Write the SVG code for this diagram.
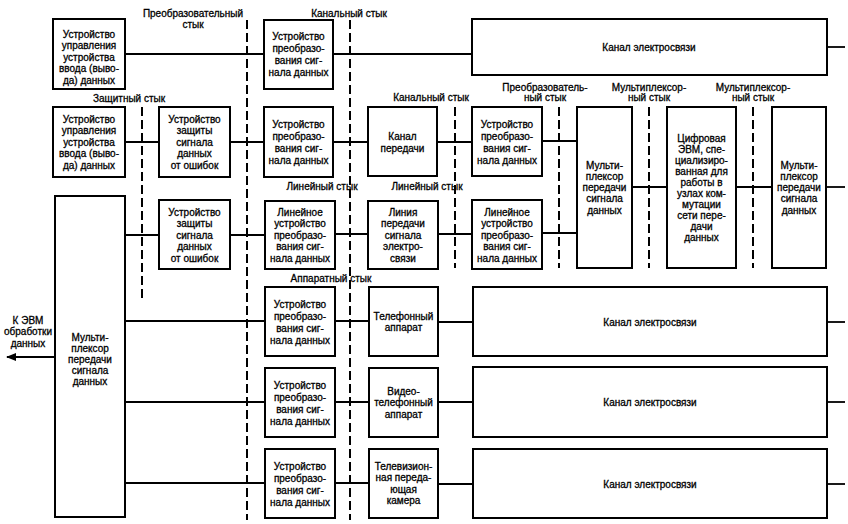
<svg xmlns="http://www.w3.org/2000/svg" width="848" height="524" viewBox="0 0 848 524">
<style>
.box{fill:#fff;stroke:#000;stroke-width:2}
.ln{stroke:#000;stroke-width:1.8;fill:none}
.dash{stroke:#000;stroke-width:2;stroke-dasharray:9 4;fill:none}
text{font-family:"Liberation Sans",Arial,sans-serif;font-size:10px;text-anchor:middle;fill:#000;stroke:#000;stroke-width:0.3}
</style>
<defs>
<marker id="arr" markerWidth="10" markerHeight="8" refX="9" refY="4" orient="auto" markerUnits="userSpaceOnUse">
<path d="M0,0 L10,4 L0,8 Z" fill="#000"/>
</marker>
</defs>
<rect width="848" height="524" fill="#fff"/>

<g id="connectors">
<line class="ln" x1="125" y1="54" x2="264" y2="54"/>
<line class="ln" x1="333" y1="54" x2="472" y2="54"/>
<line class="ln" x1="827" y1="47" x2="845" y2="47"/>
<line class="ln" x1="125" y1="142" x2="159" y2="142"/>
<line class="ln" x1="230" y1="142" x2="264" y2="142"/>
<line class="ln" x1="333" y1="142" x2="368" y2="142"/>
<line class="ln" x1="437" y1="142" x2="472" y2="142"/>
<line class="ln" x1="542" y1="141" x2="577" y2="141"/>
<line class="ln" x1="125" y1="235" x2="159" y2="235"/>
<line class="ln" x1="230" y1="235" x2="265" y2="235"/>
<line class="ln" x1="335" y1="234" x2="368" y2="234"/>
<line class="ln" x1="438" y1="234" x2="472" y2="234"/>
<line class="ln" x1="542" y1="233" x2="577" y2="233"/>
<line class="ln" x1="632" y1="187" x2="667" y2="187"/>
<line class="ln" x1="736" y1="187" x2="772" y2="187"/>
<line class="ln" x1="826" y1="187" x2="845" y2="187"/>
<line class="ln" x1="125" y1="321" x2="265" y2="321"/>
<line class="ln" x1="335" y1="321" x2="369" y2="321"/>
<line class="ln" x1="438" y1="322" x2="473" y2="322"/>
<line class="ln" x1="827" y1="322" x2="845" y2="322"/>
<line class="ln" x1="125" y1="402" x2="265" y2="402"/>
<line class="ln" x1="335" y1="402" x2="369" y2="402"/>
<line class="ln" x1="438" y1="402" x2="473" y2="402"/>
<line class="ln" x1="827" y1="402" x2="845" y2="402"/>
<line class="ln" x1="125" y1="483" x2="265" y2="483"/>
<line class="ln" x1="335" y1="483" x2="369" y2="483"/>
<line class="ln" x1="438" y1="484" x2="473" y2="484"/>
<line class="ln" x1="827" y1="484" x2="845" y2="484"/>
<line class="ln" x1="55" y1="357" x2="7" y2="357" marker-end="url(#arr)"/>
</g>

<g id="interfaces">
<line class="dash" x1="142" y1="107" x2="142" y2="302"/>
<line class="dash" x1="247" y1="20" x2="247" y2="520"/>
<line class="dash" x1="350" y1="20" x2="350" y2="520"/>
<line class="dash" x1="455" y1="107" x2="455" y2="268"/>
<line class="dash" x1="559" y1="107" x2="559" y2="268"/>
<line class="dash" x1="649" y1="107" x2="649" y2="268"/>
<line class="dash" x1="753" y1="107" x2="753" y2="268"/>
</g>

<g id="labels">
<text x="193" y="16.5">Преобразовательный</text>
<text x="193" y="27.5">стык</text>
<text x="349" y="16.5">Канальный стык</text>
<text x="129" y="101.5">Защитный стык</text>
<text x="431" y="100.5">Канальный стык</text>
<text x="545" y="90.5">Преобразователь-</text>
<text x="545" y="100.5">ный стык</text>
<text x="649" y="90.5">Мультиплексор-</text>
<text x="649" y="100.5">ный стык</text>
<text x="753" y="90.5">Мультиплексор-</text>
<text x="753" y="100.5">ный стык</text>
<text x="322" y="189.5">Линейный стык</text>
<text x="427" y="189.5">Линейный стык</text>
<text x="331" y="281.5">Аппаратный стык</text>
<text x="28"><tspan x="28" y="323.5">К ЭВМ</tspan><tspan x="28" y="335">обработки</tspan><tspan x="28" y="346.5">данных</tspan></text>
</g>

<g id="n1"><rect class="box" x="53" y="19" width="72" height="70"/>
<text><tspan x="89" y="37.5">Устройство</tspan><tspan x="89" y="49">управления</tspan><tspan x="89" y="60.5">устройства</tspan><tspan x="89" y="72">ввода (выво-</tspan><tspan x="89" y="83.5">да) данных</tspan></text></g>

<g id="n2"><rect class="box" x="264" y="20" width="69" height="69"/>
<text><tspan x="298.5" y="39.5">Устройство</tspan><tspan x="298.5" y="51.5">преобразо-</tspan><tspan x="298.5" y="63.5">вания сиг-</tspan><tspan x="298.5" y="75.5">нала данных</tspan></text></g>

<g id="n3"><rect class="box" x="472" y="19" width="355" height="56"/>
<text x="649" y="50.5">Канал электросвязи</text></g>

<g id="n4"><rect class="box" x="53" y="107" width="72" height="70"/>
<text><tspan x="89" y="122.5">Устройство</tspan><tspan x="89" y="134">управления</tspan><tspan x="89" y="145.5">устройства</tspan><tspan x="89" y="157">ввода (выво-</tspan><tspan x="89" y="168.5">да) данных</tspan></text></g>

<g id="n5"><rect class="box" x="159" y="107" width="71" height="70"/>
<text><tspan x="194.5" y="122.5">Устройство</tspan><tspan x="194.5" y="134">защиты</tspan><tspan x="194.5" y="145.5">сигнала</tspan><tspan x="194.5" y="157">данных</tspan><tspan x="194.5" y="168.5">от ошибок</tspan></text></g>

<g id="n6"><rect class="box" x="264" y="107" width="69" height="70"/>
<text><tspan x="298.5" y="127.5">Устройство</tspan><tspan x="298.5" y="139.5">преобразо-</tspan><tspan x="298.5" y="151.5">вания сиг-</tspan><tspan x="298.5" y="163.5">нала данных</tspan></text></g>

<g id="n7"><rect class="box" x="368" y="107" width="69" height="69"/>
<text><tspan x="402.5" y="139.5">Канал</tspan><tspan x="402.5" y="151.5">передачи</tspan></text></g>

<g id="n8"><rect class="box" x="472" y="107" width="70" height="69"/>
<text><tspan x="507" y="127.5">Устройство</tspan><tspan x="507" y="139.5">преобразо-</tspan><tspan x="507" y="151.5">вания сиг-</tspan><tspan x="507" y="163.5">нала данных</tspan></text></g>

<g id="n9"><rect class="box" x="577" y="107" width="55" height="161"/>
<text><tspan x="604.5" y="168.5">Мульти-</tspan><tspan x="604.5" y="180">плексор</tspan><tspan x="604.5" y="191">передачи</tspan><tspan x="604.5" y="202">сигнала</tspan><tspan x="604.5" y="213.5">данных</tspan></text></g>

<g id="n10"><rect class="box" x="667" y="107" width="69" height="161"/>
<text><tspan x="701.5" y="141.5">Цифровая</tspan><tspan x="701.5" y="152.6">ЭВМ, спе-</tspan><tspan x="701.5" y="163.7">циализиро-</tspan><tspan x="701.5" y="174.8">ванная для</tspan><tspan x="701.5" y="185.9">работы в</tspan><tspan x="701.5" y="197">узлах ком-</tspan><tspan x="701.5" y="208.1">мутации</tspan><tspan x="701.5" y="219.2">сети пере-</tspan><tspan x="701.5" y="230.3">дачи</tspan><tspan x="701.5" y="241.4">данных</tspan></text></g>

<g id="n11"><rect class="box" x="772" y="107" width="54" height="161"/>
<text><tspan x="799" y="168.5">Мульти-</tspan><tspan x="799" y="180">плексор</tspan><tspan x="799" y="191">передачи</tspan><tspan x="799" y="202">сигнала</tspan><tspan x="799" y="213.5">данных</tspan></text></g>

<g id="n12"><rect class="box" x="55" y="196" width="70" height="321"/>
<text><tspan x="90" y="340.5">Мульти-</tspan><tspan x="90" y="351.5">плексор</tspan><tspan x="90" y="362.5">передачи</tspan><tspan x="90" y="373.5">сигнала</tspan><tspan x="90" y="384.5">данных</tspan></text></g>

<g id="n13"><rect class="box" x="159" y="200" width="71" height="69"/>
<text><tspan x="194.5" y="215.5">Устройство</tspan><tspan x="194.5" y="227">защиты</tspan><tspan x="194.5" y="238.5">сигнала</tspan><tspan x="194.5" y="250">данных</tspan><tspan x="194.5" y="261.5">от ошибок</tspan></text></g>

<g id="n14"><rect class="box" x="265" y="201" width="70" height="68"/>
<text><tspan x="300" y="215.5">Линейное</tspan><tspan x="300" y="227">устройство</tspan><tspan x="300" y="238.5">преобразо-</tspan><tspan x="300" y="250">вания сиг-</tspan><tspan x="300" y="261.5">нала данных</tspan></text></g>

<g id="n15"><rect class="box" x="368" y="201" width="70" height="68"/>
<text><tspan x="403" y="215.5">Линия</tspan><tspan x="403" y="227">передачи</tspan><tspan x="403" y="238.5">сигнала</tspan><tspan x="403" y="250">электро-</tspan><tspan x="403" y="261.5">связи</tspan></text></g>

<g id="n16"><rect class="box" x="472" y="200" width="70" height="69"/>
<text><tspan x="507" y="215.5">Линейное</tspan><tspan x="507" y="227">устройство</tspan><tspan x="507" y="238.5">преобразо-</tspan><tspan x="507" y="250">вания сиг-</tspan><tspan x="507" y="261.5">нала данных</tspan></text></g>

<g id="n17"><rect class="box" x="265" y="287" width="70" height="69"/>
<text><tspan x="300" y="307.5">Устройство</tspan><tspan x="300" y="319.5">преобразо-</tspan><tspan x="300" y="331.5">вания сиг-</tspan><tspan x="300" y="343.5">нала данных</tspan></text></g>

<g id="n18"><rect class="box" x="369" y="287" width="69" height="69"/>
<text><tspan x="403.5" y="319.5">Телефонный</tspan><tspan x="403.5" y="331">аппарат</tspan></text></g>

<g id="n19"><rect class="box" x="473" y="287" width="354" height="69"/>
<text x="650" y="325.5">Канал электросвязи</text></g>

<g id="n20"><rect class="box" x="265" y="368" width="70" height="69"/>
<text><tspan x="300" y="388.5">Устройство</tspan><tspan x="300" y="400.5">преобразо-</tspan><tspan x="300" y="412.5">вания сиг-</tspan><tspan x="300" y="424.5">нала данных</tspan></text></g>

<g id="n21"><rect class="box" x="369" y="368" width="69" height="69"/>
<text><tspan x="403.5" y="394.5">Видео-</tspan><tspan x="403.5" y="406">телефонный</tspan><tspan x="403.5" y="417.5">аппарат</tspan></text></g>

<g id="n22"><rect class="box" x="473" y="367" width="354" height="70"/>
<text x="650" y="405.5">Канал электросвязи</text></g>

<g id="n23"><rect class="box" x="265" y="449" width="70" height="69"/>
<text><tspan x="300" y="469.5">Устройство</tspan><tspan x="300" y="481.5">преобразо-</tspan><tspan x="300" y="493.5">вания сиг-</tspan><tspan x="300" y="505.5">нала данных</tspan></text></g>

<g id="n24"><rect class="box" x="369" y="449" width="69" height="69"/>
<text><tspan x="403.5" y="469.5">Телевизион-</tspan><tspan x="403.5" y="481">ная переда-</tspan><tspan x="403.5" y="492.5">ющая</tspan><tspan x="403.5" y="504">камера</tspan></text></g>

<g id="n25"><rect class="box" x="473" y="449" width="354" height="69"/>
<text x="650" y="487.5">Канал электросвязи</text></g>
</svg>
